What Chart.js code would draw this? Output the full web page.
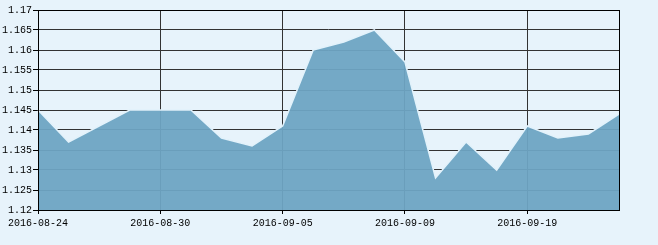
<!DOCTYPE html>
<html><head><meta charset="utf-8">
<script src="https://cdn.jsdelivr.net/npm/chart.js@4"></script>
<style>html,body{margin:0;padding:0;background:#E7F3FB;}#wrap{width:658px;height:245px;}</style>
</head><body><div id="wrap"><canvas id="c" width="658" height="245"></canvas></div>
<script>
const dates = ["2016-08-24","2016-08-25","2016-08-26","2016-08-29","2016-08-30","2016-08-31","2016-09-01","2016-09-02","2016-09-05","2016-09-06","2016-09-07","2016-09-08","2016-09-09","2016-09-12","2016-09-13","2016-09-14","2016-09-19","2016-09-20","2016-09-21","2016-09-22"];
const values = [1.145,1.137,1.141,1.145,1.145,1.145,1.138,1.136,1.141,1.160,1.162,1.165,1.157,1.128,1.137,1.130,1.141,1.138,1.139,1.144];
const yMin = 1.12, yMax = 1.17, yStep = 0.005;
const labelEvery = 4;

const border = {
  id:'border',
  afterDatasetsDraw(chart){
    const a = chart.chartArea, ctx = chart.ctx;
    ctx.save();
    ctx.strokeStyle = '#000';
    ctx.lineWidth = 1;
    ctx.strokeRect(Math.round(a.left)+0.5, Math.round(a.top)+0.5, Math.round(a.right-a.left)-0, Math.round(a.bottom-a.top));
    ctx.restore();
  }
};

new Chart(document.getElementById('c'), {
  type:'line',
  data:{labels:dates, datasets:[{
    data:values,
    fill:'start',
    backgroundColor:'rgba(110,164,195,0.95)',
    borderColor:'#E2F2FB',
    borderWidth:1.5,
    pointRadius:0,
    tension:0
  }]},
  options:{
    responsive:false, animation:false,
    devicePixelRatio:1,
    layout:{padding:{top:10,right:39,left:0,bottom:0}},
    plugins:{legend:{display:false},tooltip:{enabled:false}},
    scales:{
      x:{
        afterFit(s){s.height=35;},
        border:{display:false},
        grid:{
          color:(c)=> (c.index % labelEvery === 0) ? '#333' : 'rgba(0,0,0,0)',
          tickColor:(c)=> (c.index % labelEvery === 0 && c.index < dates.length-1) ? '#000' : 'rgba(0,0,0,0)',
          tickLength:4, lineWidth:1
        },
        ticks:{
          autoSkip:false, maxRotation:0, minRotation:0, padding:3,
          color:'#000', font:{family:'Liberation Mono', size:10},
          callback:(v,i)=> (i % labelEvery === 0) ? dates[i] : ''
        }
      },
      y:{
        min:yMin, max:yMax,
        afterFit(s){s.width=38;},
        border:{display:false},
        grid:{color:'#333', tickColor:'#000', tickLength:5, lineWidth:1},
        ticks:{
          stepSize:yStep, padding:1, color:'#000',
          font:{family:'Liberation Mono', size:10},
          callback:(v)=> String(Number(v.toFixed(3)))
        }
      }
    }
  },
  plugins:[border]
});
</script></body></html>
